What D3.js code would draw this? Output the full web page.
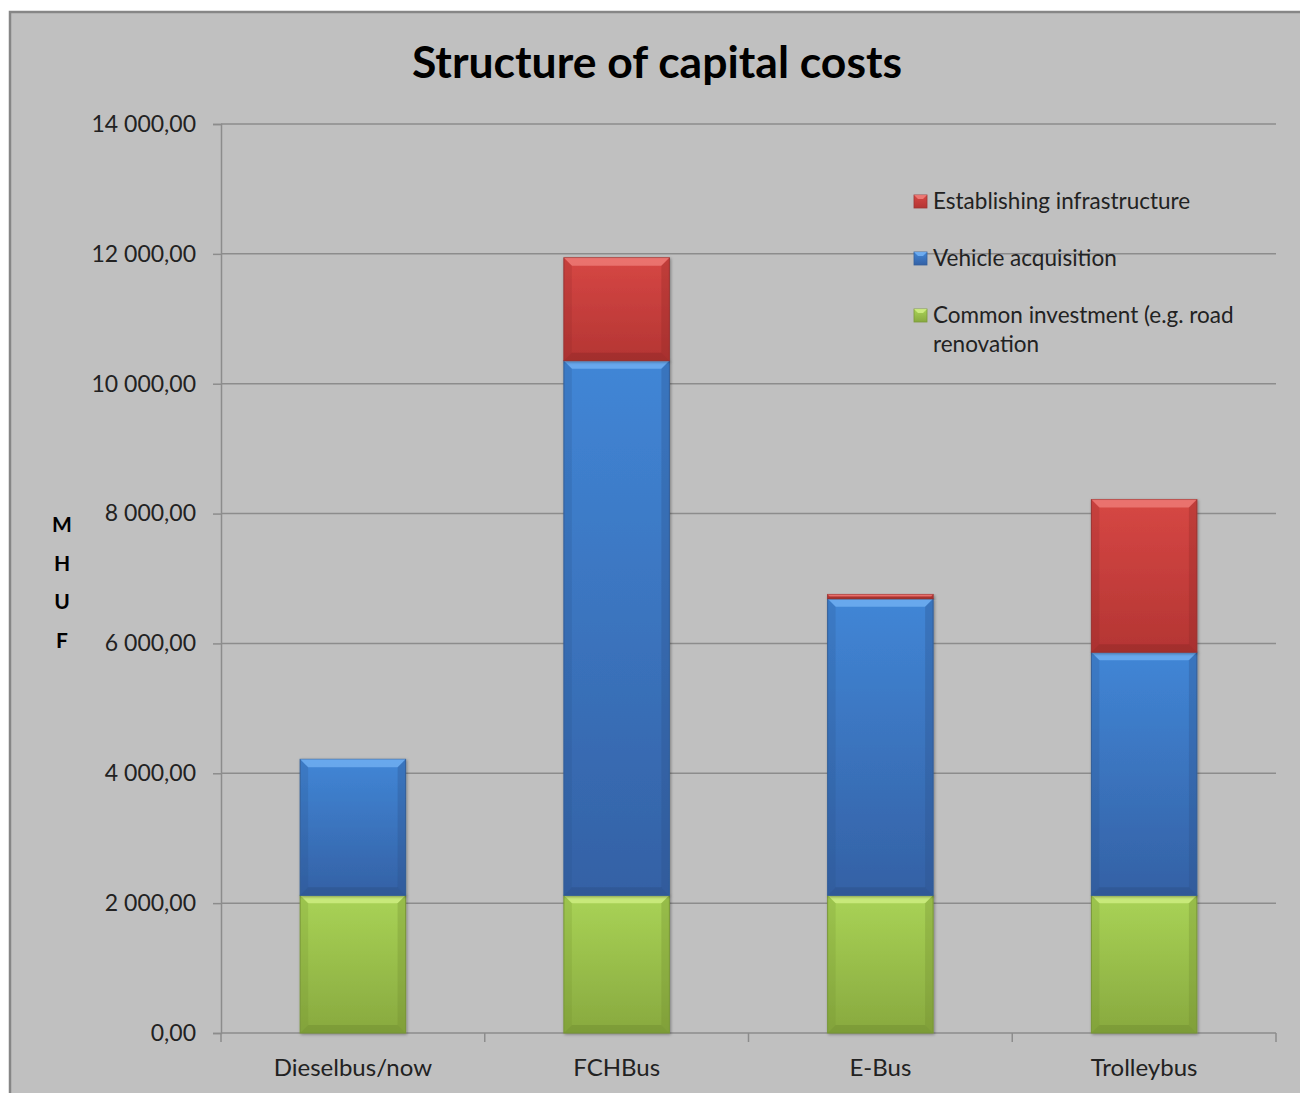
<!DOCTYPE html>
<html>
<head>
<meta charset="utf-8">
<script src="https://cdn.jsdelivr.net/npm/d3@7"></script>
<style>
  html, body { margin: 0; padding: 0; background: #ffffff; }
  svg { display: block; }
  text { font-family: Lato, "Open Sans", "DejaVu Sans", sans-serif; }
</style>
</head>
<body>
<svg id="chart" width="1300" height="1093"></svg>
<script>
// Capital cost structure per bus technology, MHUF
const categories = ["Dieselbus/now", "FCHBus", "E-Bus", "Trolleybus"];
const seriesNames = ["Common investment (e.g. road renovation", "Vehicle acquisition", "Establishing infrastructure"];
const commonInvestment = [2120, 2120, 2120, 2120];
const vehicleAcquisition = [2095, 8235, 4570, 3745];
const establishingInfrastructure = [0, 1585, 65, 2350];
const yTicks = [0, 2000, 4000, 6000, 8000, 10000, 12000, 14000];
const yLabelLetters = ["M", "H", "U", "F"];

const W = 1300, H = 1093;
const plot = { left: 221, right: 1276, top: 124, bottom: 1033 };

const svg = d3.select("#chart");
const defs = svg.append("defs");

// Chart frame
svg.append("rect")
  .attr("x", 10).attr("y", 12).attr("width", W + 20).attr("height", H + 20)
  .attr("fill", "#c0c0c0").attr("stroke", "#868686").attr("stroke-width", 2.5);

const x = d3.scaleBand().domain(categories).range([plot.left, plot.right]).paddingInner(0.6).paddingOuter(0.3);
const y = d3.scaleLinear().domain([0, 14000]).range([plot.bottom, plot.top]);

const locale = d3.formatLocale({ decimal: ",", thousands: "\u00a0", grouping: [3], currency: ["", ""] });
const fmt = locale.format(",.2f");

// Gridlines
svg.append("g").selectAll("line").data(yTicks.slice(1)).join("line")
  .attr("x1", plot.left).attr("x2", plot.right)
  .attr("y1", d => y(d)).attr("y2", d => y(d))
  .attr("stroke", "#8c8c8c").attr("stroke-width", 1.5);

// Y axis
const yAxis = svg.append("g").attr("transform", `translate(${plot.left},0)`)
  .call(d3.axisLeft(y).tickValues(yTicks).tickFormat(fmt).tickSize(8).tickPadding(17));
yAxis.select(".domain").attr("stroke", "#8c8c8c").attr("stroke-width", 1.5);
yAxis.selectAll(".tick line").attr("stroke", "#8c8c8c").attr("stroke-width", 1.5);
yAxis.selectAll(".tick text").attr("fill", "#222").style("font-size", "23px")
  .style("font-family", "Lato, 'Open Sans', sans-serif");

// X axis with ticks at category boundaries
const xAxisG = svg.append("g");
xAxisG.append("line")
  .attr("x1", plot.left).attr("x2", plot.right).attr("y1", plot.bottom).attr("y2", plot.bottom)
  .attr("stroke", "#8c8c8c").attr("stroke-width", 1.5);
const boundaries = d3.range(categories.length + 1).map(i => plot.left + i * (plot.right - plot.left) / categories.length);
xAxisG.selectAll("line.tk").data(boundaries).join("line").attr("class", "tk")
  .attr("x1", d => d).attr("x2", d => d).attr("y1", plot.bottom).attr("y2", plot.bottom + 9)
  .attr("stroke", "#8c8c8c").attr("stroke-width", 1.5);
xAxisG.selectAll("text").data(categories).join("text")
  .attr("x", d => x(d) + x.bandwidth() / 2).attr("y", 1076)
  .attr("text-anchor", "middle").attr("fill", "#222").style("font-size", "24px")
  .text(d => d);

// Bar palettes: gradient ends, bevel highlight / shade, edge
const palettes = [
  { top: "#a9d356", bottom: "#88a93f", light: "#d6f38a", dark: "#6f8c2e", edge: "#7c9a3a" },
  { top: "#4186d6", bottom: "#3461a5", light: "#79b6f7", dark: "#2a4f88", edge: "#35609b" },
  { top: "#d64744", bottom: "#b43533", light: "#f28580", dark: "#8e2726", edge: "#9d3634" }
];
palettes.forEach((p, i) => {
  const g = defs.append("linearGradient").attr("id", "grad" + i)
    .attr("x1", 0).attr("y1", 0).attr("x2", 0).attr("y2", 1);
  g.append("stop").attr("offset", "0%").attr("stop-color", p.top);
  g.append("stop").attr("offset", "100%").attr("stop-color", p.bottom);
});

const stackData = categories.map((c, i) => ({
  category: c,
  [seriesNames[0]]: commonInvestment[i],
  [seriesNames[1]]: vehicleAcquisition[i],
  [seriesNames[2]]: establishingInfrastructure[i]
}));
const stack = d3.stack().keys(seriesNames)(stackData);

// Soft drop shadow for bar segments
const shadow = defs.append("filter").attr("id", "shadow").attr("x", "-10%").attr("y", "-10%").attr("width", "130%").attr("height", "130%");
shadow.append("feGaussianBlur").attr("in", "SourceAlpha").attr("stdDeviation", 1.5);
shadow.append("feOffset").attr("dx", 1).attr("dy", 1).attr("result", "ob");
shadow.append("feFlood").attr("flood-color", "#000").attr("flood-opacity", 0.35);
shadow.append("feComposite").attr("in2", "ob").attr("operator", "in");
const fm = shadow.append("feMerge");
fm.append("feMergeNode");
fm.append("feMergeNode").attr("in", "SourceGraphic");

const barsG = svg.append("g");
stack.forEach((layer, si) => {
  const p = palettes[si];
  layer.forEach(seg => {
    const x0 = x(seg.data.category), w = x.bandwidth();
    const yTop = y(seg[1]), yBot = y(seg[0]);
    const h = yBot - yTop;
    if (h <= 0) return;
    const g = barsG.append("g");
    g.append("rect").attr("x", x0).attr("y", yTop).attr("width", w).attr("height", h)
      .attr("fill", `url(#grad${si})`).attr("stroke", p.edge).attr("stroke-width", 1)
      .attr("filter", "url(#shadow)");
    const b = Math.min(8, h / 2);
    // top bevel
    g.append("polygon").attr("points", [[x0, yTop], [x0 + w, yTop], [x0 + w - b, yTop + b], [x0 + b, yTop + b]].join(" "))
      .attr("fill", p.light).attr("opacity", 0.7);
    // left and right bevels
    g.append("polygon").attr("points", [[x0, yTop], [x0 + b, yTop + b], [x0 + b, yBot - b], [x0, yBot]].join(" "))
      .attr("fill", p.dark).attr("opacity", 0.2);
    g.append("polygon").attr("points", [[x0 + w, yTop], [x0 + w - b, yTop + b], [x0 + w - b, yBot - b], [x0 + w, yBot]].join(" "))
      .attr("fill", p.dark).attr("opacity", 0.3);
    // bottom bevel
    g.append("polygon").attr("points", [[x0, yBot], [x0 + b, yBot - b], [x0 + w - b, yBot - b], [x0 + w, yBot]].join(" "))
      .attr("fill", p.dark).attr("opacity", 0.45);
  });
});

// Title
svg.append("text").attr("x", 657).attr("y", 78).attr("text-anchor", "middle")
  .style("font-size", "44.5px").style("font-weight", "bold").attr("fill", "#000")
  .text("Structure of capital costs");

// Vertical axis title, stacked letters
svg.append("g").selectAll("text").data(yLabelLetters).join("text")
  .attr("x", 62).attr("y", (d, i) => 532 + i * 38.5).attr("text-anchor", "middle")
  .style("font-size", "21px").style("font-weight", "bold").attr("fill", "#000")
  .text(d => d);

// Legend (top series first)
const legendItems = [
  { lines: ["Establishing infrastructure"], si: 2, y: 202 },
  { lines: ["Vehicle acquisition"], si: 1, y: 259 },
  { lines: ["Common investment (e.g. road", "renovation"], si: 0, y: 316 }
];
const lg = svg.append("g");
legendItems.forEach(it => {
  const p = palettes[it.si];
  lg.append("rect").attr("x", 914).attr("y", it.y - 7).attr("width", 13).attr("height", 13)
    .attr("fill", `url(#grad${it.si})`).attr("stroke", p.edge).attr("stroke-width", 0.8);
  lg.append("polygon").attr("points", [[914, it.y - 7], [927, it.y - 7], [923, it.y - 3], [918, it.y - 3]].join(" "))
    .attr("fill", p.light).attr("opacity", 0.8);
  const t = lg.append("text").attr("x", 933).attr("y", it.y + 7).attr("fill", "#222").style("font-size", "22.5px");
  it.lines.forEach((ln, k) => {
    t.append("tspan").attr("x", 933).attr("dy", k === 0 ? 0 : 29).text(ln);
  });
});
</script>
</body>
</html>
